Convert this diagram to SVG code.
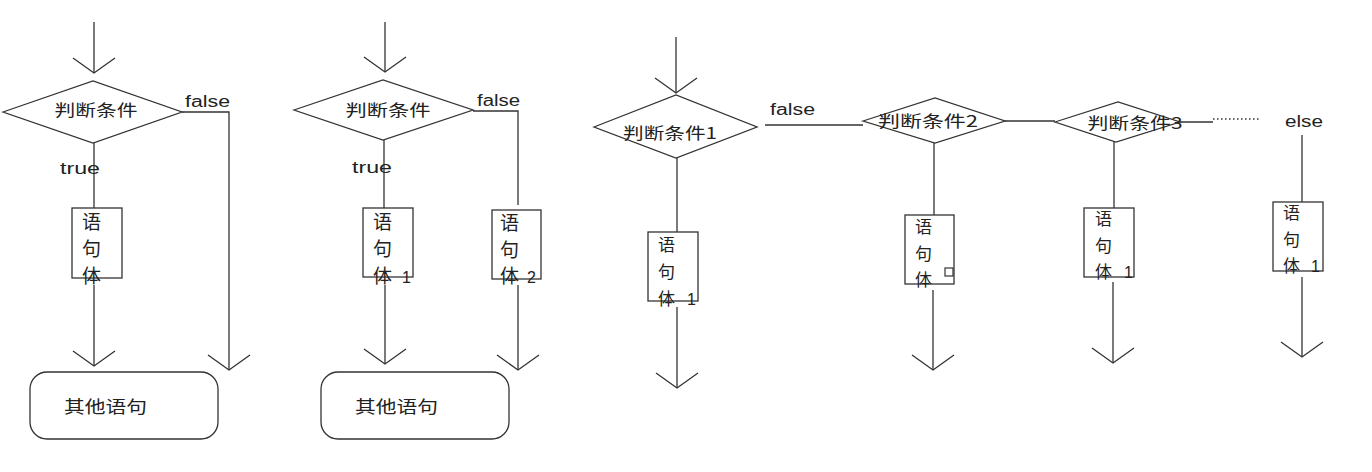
<svg xmlns="http://www.w3.org/2000/svg" width="1372" height="472" viewBox="0 0 1372 472">
<defs>
<style>
.ln{fill:none;stroke:#333;stroke-width:1.3}
.shape{fill:#fff;stroke:#333;stroke-width:1.3}
.cj{font-family:"Noto Sans CJK SC","Noto Sans",sans-serif;fill:#222}
.lat{font-family:"Liberation Sans","DejaVu Sans",sans-serif;fill:#222;font-size:16px}
.dt{font-size:16px;text-anchor:middle}
.bt{font-size:19px}
.bt2{font-size:17px}
.dot{fill:none;stroke:#333;stroke-width:1.3;stroke-dasharray:1.5 2.5}
</style>
<marker id="v" markerUnits="userSpaceOnUse" markerWidth="40" markerHeight="50" viewBox="-20 -25 40 50" refX="0" refY="0" orient="auto" overflow="visible">
<path d="M-15,-21 L0,0 L-15,21" fill="none" stroke="#333" stroke-width="1.3"/>
</marker>
</defs>
<rect width="1372" height="472" fill="#fff"/>

<g id="connectors">
<!-- diagram 1 -->
<path class="ln" d="M94,22 V73" marker-end="url(#v)"/>
<path class="ln" d="M94,143 V208"/>
<path class="ln" d="M182,112 H229 V370" marker-end="url(#v)"/>
<path class="ln" d="M94,285 V366" marker-end="url(#v)"/>
<!-- diagram 2 -->
<path class="ln" d="M385,22 V72" marker-end="url(#v)"/>
<path class="ln" d="M384,140 V208"/>
<path class="ln" d="M473,111 H518 V205"/>
<path class="ln" d="M385,285 V364" marker-end="url(#v)"/>
<path class="ln" d="M518,285 V370" marker-end="url(#v)"/>
<!-- diagram 3 -->
<path class="ln" d="M676,37 V93" marker-end="url(#v)"/>
<path class="ln" d="M677,158 V232"/>
<path class="ln" d="M765,125 H863"/>
<path class="ln" d="M1005,121 H1055"/>
<path class="ln" d="M1180,122 H1213"/>
<path class="dot" d="M1213,119 H1260"/>
<path class="ln" d="M934,143 V215"/>
<path class="ln" d="M1114,142 V208"/>
<path class="ln" d="M1302,135 V202"/>
<path class="ln" d="M677,307 V388" marker-end="url(#v)"/>
<path class="ln" d="M933,290 V370" marker-end="url(#v)"/>
<path class="ln" d="M1113,282 V363" marker-end="url(#v)"/>
<path class="ln" d="M1302,277 V357" marker-end="url(#v)"/>
</g>

<g id="labels">
<text class="lat" x="185" y="107" textLength="45" lengthAdjust="spacingAndGlyphs">false</text>
<text class="lat" x="60" y="174" textLength="40" lengthAdjust="spacingAndGlyphs">true</text>
<text class="lat" x="477" y="106" textLength="43" lengthAdjust="spacingAndGlyphs">false</text>
<text class="lat" x="352" y="173" textLength="40" lengthAdjust="spacingAndGlyphs">true</text>
<text class="lat" x="770" y="115" textLength="45" lengthAdjust="spacingAndGlyphs">false</text>
<text class="lat" x="1285" y="127" textLength="38" lengthAdjust="spacingAndGlyphs">else</text>
</g>

<g id="cond1">
<polygon class="shape" points="3,112 93,81 182,112 93,143"/>
<text class="cj dt" x="96" y="116" textLength="83" lengthAdjust="spacingAndGlyphs">判断条件</text>
</g>
<g id="body1">
<rect class="shape" x="72" y="208" width="50" height="70"/>
<text class="cj bt" x="82" y="229">语</text>
<text class="cj bt" x="82" y="256">句</text>
<text class="cj bt" x="82" y="283">体</text>
</g>
<g id="other1">
<rect class="shape" x="30" y="372" width="188" height="67" rx="17"/>
<text class="cj" font-size="17" x="64" y="413" textLength="83" lengthAdjust="spacingAndGlyphs">其他语句</text>
</g>

<g id="cond2">
<polygon class="shape" points="294,110 383,80 473,110 383,140"/>
<text class="cj dt" x="388" y="116" textLength="85" lengthAdjust="spacingAndGlyphs">判断条件</text>
</g>
<g id="body2a">
<rect class="shape" x="363" y="208" width="50" height="69"/>
<text class="cj bt" x="373" y="229">语</text>
<text class="cj bt" x="373" y="256">句</text>
<text class="cj bt" x="373" y="283">体<tspan class="lat" font-size="18" x="402">1</tspan></text>
</g>
<g id="body2b">
<rect class="shape" x="492" y="210" width="49" height="69"/>
<text class="cj bt" x="500" y="230">语</text>
<text class="cj bt" x="500" y="257">句</text>
<text class="cj bt" x="500" y="283">体<tspan class="lat" font-size="18" x="527">2</tspan></text>
</g>
<g id="other2">
<rect class="shape" x="321" y="372" width="188" height="67" rx="17"/>
<text class="cj" font-size="17" x="355" y="413" textLength="83" lengthAdjust="spacingAndGlyphs">其他语句</text>
</g>

<g id="cond3a">
<polygon class="shape" points="594,127 676,95 757,127 676,158"/>
<text class="cj dt" x="670" y="139" textLength="94" lengthAdjust="spacingAndGlyphs">判断条件1</text>
</g>
<g id="cond3b">
<polygon class="shape" points="863,121 935,98 1005,121 935,143"/>
<text class="cj dt" x="928" y="127" font-size="17" textLength="100" lengthAdjust="spacingAndGlyphs">判断条件2</text>
</g>
<g id="cond3c">
<polygon class="shape" points="1055,122 1118,102 1180,122 1116,142"/>
<text class="cj dt" x="1135" y="129" font-size="17" textLength="95" lengthAdjust="spacingAndGlyphs">判断条件3</text>
</g>
<g id="body3a">
<rect class="shape" x="648" y="232" width="50" height="69"/>
<text class="cj bt2" x="658" y="251">语</text>
<text class="cj bt2" x="658" y="278">句</text>
<text class="cj bt2" x="658" y="305">体<tspan class="lat" font-size="17" x="687">1</tspan></text>
</g>
<g id="body3b">
<rect class="shape" x="905" y="215" width="49" height="69"/>
<text class="cj bt2" x="915" y="233">语</text>
<text class="cj bt2" x="915" y="260">句</text>
<text class="cj bt2" x="915" y="286">体</text>
<rect x="945" y="268" width="8" height="8" fill="none" stroke="#333" stroke-width="1.2"/>
</g>
<g id="body3c">
<rect class="shape" x="1084" y="208" width="50" height="69"/>
<text class="cj bt2" x="1095" y="225">语</text>
<text class="cj bt2" x="1095" y="252">句</text>
<text class="cj bt2" x="1095" y="278">体<tspan class="lat" font-size="17" x="1124">1</tspan></text>
</g>
<g id="body3else">
<rect class="shape" x="1273" y="202" width="50" height="69"/>
<text class="cj bt2" x="1283" y="219">语</text>
<text class="cj bt2" x="1283" y="246">句</text>
<text class="cj bt2" x="1283" y="272">体<tspan class="lat" font-size="17" x="1311">1</tspan></text>
</g>
</svg>
